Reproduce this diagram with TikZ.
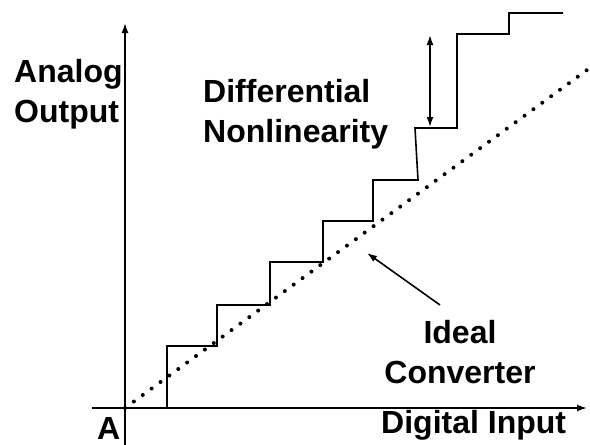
\documentclass[tikz,border=0pt]{standalone}
\usepackage{fontspec}
\setmainfont{Liberation Sans}
\usetikzlibrary{arrows.meta}

\begin{document}
\begin{tikzpicture}[x=1pt,y=-1pt]
    \tikzstyle{axis}=[line width=1.6pt,-{Latex[length=10pt,width=7pt]}]
    \tikzstyle{stair}=[line width=1.6pt]
    \tikzstyle{ideal}=[line width=4pt,line cap=round,dash pattern=on 0pt off 11pt]
    \tikzstyle{pointer}=[line width=1.6pt,-{Latex[length=10pt,width=7pt]}]
    \tikzstyle{both}=[line width=1.6pt,{Latex[length=10pt,width=7pt]}-{Latex[length=10pt,width=7pt]}]
    \tikzstyle{lbl}=[inner sep=0pt,font=\bfseries\fontsize{32}{40}\selectfont]
    \useasboundingbox (0,0) rectangle (590,445);

    % Axes
    \coordinate (origin) at (125,408);
    \coordinate (ytop) at (125,23);
    \coordinate (ybot) at (125,445);
    \coordinate (xleft) at (92,408);
    \coordinate (xright) at (587,408);
    \draw [axis] (ybot) -- (ytop);
    \draw [axis] (xleft) -- (xright);

    % Ideal converter line
    \coordinate (idealend) at (587,70);
    \draw [ideal] (origin) -- (idealend);

    % Real converter steps
    \draw [stair] (167,408) -- (167,346) -- (217,346) -- (217,305)
        -- (270,305) -- (270,262) -- (323,262) -- (323,221)
        -- (373,221) -- (373,180) -- (418,180) -- (415,128)
        -- (457,128) -- (457,34) -- (509,34) -- (509,13) -- (563,13);

    % Labels (base anchor sits on the last line)
    \node [lbl,anchor=base west,align=left] (yname) at (14,122) {Analog\\Output};
    \node [lbl,anchor=base west,align=left] (dnl) at (203,142) {Differential\\Nonlinearity};
    \node [lbl,anchor=base,align=center] (idealname) at (460,383) {Ideal\\Converter};
    \node [lbl,anchor=base west] (xname) at (381,433) {Digital Input};
    \node [lbl,anchor=base west] (orig) at (97,439) {A};

    % Step error and pointer
    \coordinate (dnltop) at (430,35);
    \coordinate (dnlbot) at (430,127);
    \draw [both] (dnltop) -- (dnlbot);
    \coordinate (idealtail) at (440,305);
    \coordinate (idealhead) at (367,253);
    \draw [pointer] (idealtail) -- (idealhead);
\end{tikzpicture}
\end{document}
